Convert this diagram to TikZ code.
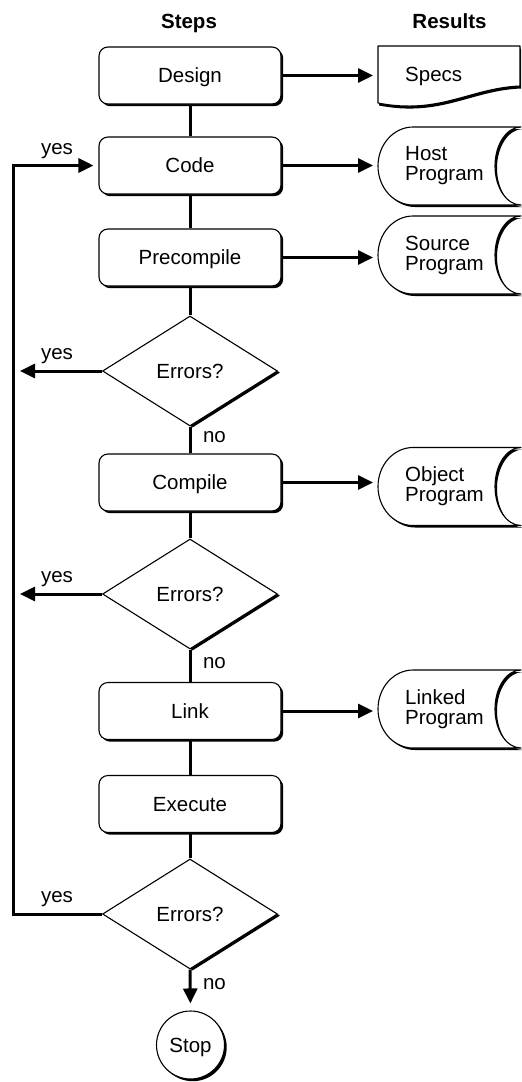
\documentclass[tikz,border=0pt]{standalone}
\usepackage{fontspec}
\setmainfont{Liberation Sans}
\usetikzlibrary{arrows.meta,shapes.geometric,shadows}
\newcommand\stdata[1]{(413,#1-39) -- (521,#1-39) .. controls (506.6,#1-39) and (495,#1-21.5) .. (495,#1) .. controls (495,#1+21.5) and (506.6,#1+39) .. (521,#1+39) -- (413,#1+39) .. controls (393.7,#1+39) and (378,#1+21.5) .. (378,#1) .. controls (378,#1-21.5) and (393.7,#1-39) .. (413,#1-39) -- cycle}
\newcommand\docpath{(378,46) -- (520,46) -- (520,86) .. controls (470,88) and (440,115) .. (378,103) -- cycle}
\begin{document}
\begin{tikzpicture}[x=1pt,y=-1pt,
  every node/.style={font=\fontsize{20.5}{20}\selectfont},
  stepbox/.style={draw, line width=1.1pt, fill=white, rounded corners=9pt,
    minimum width=182pt, minimum height=57pt, inner sep=0pt,
    text height=14.7pt, text depth=0pt,
    general shadow={fill=black, shadow xshift=2.2pt, shadow yshift=-2.2pt}},
  decision/.style={diamond, draw, line width=1.1pt, fill=white,
    minimum width=175pt, minimum height=110pt, inner sep=0pt,
    text height=14.7pt, text depth=0pt,
    general shadow={fill=black, shadow xshift=2.6pt, shadow yshift=-1.6pt}},
  terminal/.style={circle, draw, line width=1.1pt, fill=white,
    minimum size=68pt, inner sep=0pt, text height=14.7pt, text depth=0pt,
    general shadow={fill=black, shadow xshift=2.2pt, shadow yshift=-2.2pt}},
  conn/.style={line width=3pt},
  arr/.style={line width=3pt, -{Triangle[length=15pt,width=14pt]}},
  res/.style={anchor=west, inner xsep=27pt, inner ysep=0pt, align=left},
  restxt/.style={res, text height=14.7pt, text depth=0pt},
  lbl/.style={anchor=base, inner sep=0pt},
  outline/.style={draw, fill=white, line width=1.1pt, line join=round},
]
\useasboundingbox (0,0) rectangle (522,1082);

% headers
\node[lbl, font=\bfseries\fontsize{20.5}{20}\selectfont] (hsteps) at (189,28) {Steps};
\node[lbl, font=\bfseries\fontsize{20.5}{20}\selectfont] (hres) at (449.5,28) {Results};

% result shapes
\fill[xshift=1pt, yshift=-2.5pt] \docpath;
\path[outline] \docpath;
\foreach \c in {166,255,486.5,709}{
  \fill[xshift=2pt, yshift=-2pt] \stdata{\c};
  \path[outline] \stdata{\c};
}

% step nodes
\node[stepbox] (design) at (190,75.5) {Design};
\node[stepbox] (code) at (190,165.5) {Code};
\node[stepbox] (pre) at (190,257.5) {Precompile};
\node[decision] (d1) at (190,371) {Errors?};
\node[stepbox] (compile) at (190,482.5) {Compile};
\node[decision] (d2) at (190,594) {Errors?};
\node[stepbox] (link) at (190,711) {Link};
\node[stepbox] (exec) at (190,804) {Execute};
\node[decision] (d3) at (190,914) {Errors?};
\node[terminal] (stop) at (190.5,1045) {Stop};

% result texts
\node[restxt] (specs) at (378,74) {Specs};
\node[res] (host) at (378,166) {Host\\Program};
\node[res] (source) at (378,255) {Source\\Program};
\node[res] (object) at (378,486.5) {Object\\Program};
\node[res] (linked) at (378,709) {Linked\\Program};

% vertical connectors
\draw[conn] (design.south) -- (code.north);
\draw[conn] (code.south) -- (pre.north);
\draw[conn] (pre.south) -- (d1.north);
\draw[conn] (d1.south) -- (compile.north);
\draw[conn] (compile.south) -- (d2.north);
\draw[conn] (d2.south) -- (link.north);
\draw[conn] (link.south) -- (exec.north);
\draw[conn] (exec.south) -- (d3.north);
\draw[arr, shorten >=7pt] (d3.south) -- (stop.north);

% result arrows
\draw[arr, shorten >=5pt] (design.east) -- (design.east -| specs.west);
\draw[arr, shorten >=5pt] (code.east) -- (code.east -| host.west);
\draw[arr, shorten >=5pt] (pre.east) -- (pre.east -| source.west);
\draw[arr, shorten >=5pt] (compile.east) -- (compile.east -| object.west);
\draw[arr, shorten >=5pt] (link.east) -- (link.east -| linked.west);

% loops
\coordinate (loopx) at (13,0);
\coordinate (yesend) at (20,0);
\draw[arr, line join=miter, shorten >=5pt] (d3.west) -| (loopx |- code.west) -- (code.west);
\draw[arr] (d1.west) -- (d1.west -| yesend);
\draw[arr] (d2.west) -- (d2.west -| yesend);

% labels
\node[lbl] (yes0) at (57,154) {yes};
\node[lbl] (yes1) at (57,359) {yes};
\node[lbl] (yes2) at (57,582) {yes};
\node[lbl] (yes3) at (57,902) {yes};
\node[lbl] (no1) at (214.5,442) {no};
\node[lbl] (no2) at (214.5,668) {no};
\node[lbl] (no3) at (214.5,989) {no};
\end{tikzpicture}
\end{document}
